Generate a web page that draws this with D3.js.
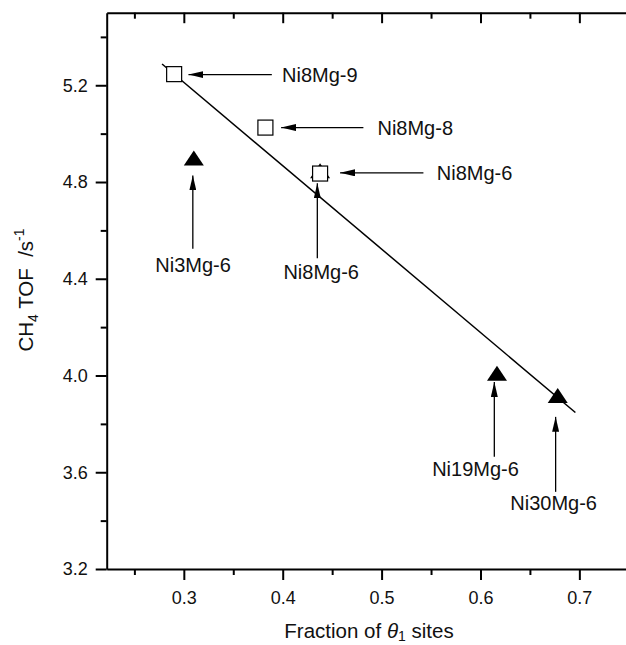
<!DOCTYPE html>
<html>
<head>
  <meta charset="utf-8">
  <title>CH4 TOF vs fraction of theta1 sites</title>
  <style type="text/css">
    body { margin: 0; background: #fff; }
    svg text { font-family: "Liberation Sans", Arial, Helvetica, sans-serif; fill: #111; }
    .axis path, .axis line { stroke: #000; stroke-width: 2px; }
    .axis text { font-size: 18px; }
    .note { font-size: 20px; }
    .title { font-size: 20.5px; white-space: pre; }
  </style>
</head>
<body>
<div id="chart"></div>
<script src="https://cdnjs.cloudflare.com/ajax/libs/d3/7.8.5/d3.min.js"></script>
<script type="text/javascript">
// open squares
var squareNames = ['Ni8Mg-9', 'Ni8Mg-8', 'Ni8Mg-6'];
var squareX = [0.2902, 0.3825, 0.4378];
var squareY = [5.246, 5.025, 4.835];

// filled triangles
var triNames = ['Ni3Mg-6', 'Ni8Mg-6', 'Ni19Mg-6', 'Ni30Mg-6'];
var triX = [0.3101, 0.4378, 0.6167, 0.6781];
var triY = [4.899, 4.847, 4.009, 3.917];

// linear fit end points
var fitX = [0.278, 0.696];
var fitY = [5.288, 3.847];

// arrows + labels (data units)
var noteText  = ['Ni8Mg-9', 'Ni8Mg-8', 'Ni8Mg-6', 'Ni8Mg-6', 'Ni3Mg-6', 'Ni19Mg-6', 'Ni30Mg-6'];
var noteTailX = [0.389, 0.4816, 0.5423, 0.435, 0.3091, 0.614, 0.676];
var noteTailY = [5.244, 5.025, 4.838, 4.485, 4.524, 3.664, 3.519];
var noteTipX  = [0.3047, 0.3984, 0.458, 0.435, 0.3091, 0.614, 0.676];
var noteTipY  = [5.244, 5.025, 4.838, 4.795, 4.827, 3.973, 3.829];
var noteLabX  = [0.3993, 0.4958, 0.5558, 0.4389, 0.3094, 0.595, 0.674];
var noteLabY  = [5.244, 5.025, 4.838, 4.397, 4.426, 3.584, 3.444];
var noteSide  = ['h', 'h', 'h', 'v', 'v', 'v', 'v'];

var xMajor = [0.3, 0.4, 0.5, 0.6, 0.7];
var xMinor = [0.25, 0.35, 0.45, 0.55, 0.65, 0.75];
var yMajor = [3.2, 3.6, 4.0, 4.4, 4.8, 5.2];
var yMinor = [3.4, 3.8, 4.2, 4.6, 5.0, 5.4];

var W = 626, H = 645;
var svg = d3.select('#chart').append('svg')
  .attr('width', W)
  .attr('height', H);

var x = d3.scaleLinear().domain([0.222, 0.75]).range([106.7, 628.8]);
var y = d3.scaleLinear().domain([3.2, 5.5]).range([569, 12.7]);

// arrow head
svg.append('defs').append('marker')
  .attr('id', 'head')
  .attr('markerUnits', 'userSpaceOnUse')
  .attr('viewBox', '0 0 15 7')
  .attr('refX', 15).attr('refY', 3.5)
  .attr('markerWidth', 15).attr('markerHeight', 7)
  .attr('orient', 'auto')
  .append('path')
  .attr('d', 'M0,0 L15,3.5 L0,7 Z')
  .attr('fill', '#000');

// axes
var fmt = d3.format('.1f');
svg.append('g').attr('class', 'axis')
  .attr('transform', 'translate(0,' + y(3.2) + ')')
  .call(d3.axisBottom(x).tickValues(xMajor).tickFormat(fmt).tickSizeInner(11).tickSizeOuter(0).tickPadding(11));
svg.append('g').attr('class', 'axis')
  .attr('transform', 'translate(0,' + y(3.2) + ')')
  .call(d3.axisBottom(x).tickValues(xMinor).tickFormat('').tickSizeInner(6).tickSizeOuter(0))
  .select('.domain').remove();
// top, inward ticks
svg.append('g').attr('class', 'axis')
  .attr('transform', 'translate(0,' + y(5.5) + ')')
  .call(d3.axisBottom(x).tickValues(xMajor).tickFormat('').tickSizeInner(10.5).tickSizeOuter(0));
svg.append('g').attr('class', 'axis')
  .attr('transform', 'translate(0,' + y(5.5) + ')')
  .call(d3.axisBottom(x).tickValues(xMinor).tickFormat('').tickSizeInner(6).tickSizeOuter(0))
  .select('.domain').remove();

svg.append('g').attr('class', 'axis')
  .attr('transform', 'translate(' + x(0.222) + ',0)')
  .call(d3.axisLeft(y).tickValues(yMajor).tickFormat(fmt).tickSizeInner(11).tickSizeOuter(0).tickPadding(8));
svg.append('g').attr('class', 'axis')
  .attr('transform', 'translate(' + x(0.222) + ',0)')
  .call(d3.axisLeft(y).tickValues(yMinor).tickFormat('').tickSizeInner(6).tickSizeOuter(0))
  .select('.domain').remove();

// fit line
svg.append('line')
  .attr('x1', x(fitX[0])).attr('y1', y(fitY[0]))
  .attr('x2', x(fitX[1])).attr('y2', y(fitY[1]))
  .attr('stroke', '#000').attr('stroke-width', 1.5);

// triangles (under squares)
svg.selectAll('path.tri')
  .data(triNames)
  .enter().append('path')
  .attr('class', 'tri')
  .attr('d', function(d, i) {
    var cx = x(triX[i]), cy = y(triY[i]);
    return 'M' + (cx - 10) + ',' + (cy + 7.5) + 'L' + (cx + 10) + ',' + (cy + 7.5) + 'L' + cx + ',' + (cy - 7.5) + 'Z';
  })
  .attr('fill', '#000');

svg.selectAll('rect.sq')
  .data(squareNames)
  .enter().append('rect')
  .attr('class', 'sq')
  .attr('x', function(d, i) { return x(squareX[i]) - 7.5 })
  .attr('y', function(d, i) { return y(squareY[i]) - 7.5 })
  .attr('width', 15).attr('height', 15)
  .attr('fill', '#fff').attr('stroke', '#000').attr('stroke-width', 1.2);

// arrows
svg.selectAll('line.arr')
  .data(noteText)
  .enter().append('line')
  .attr('class', 'arr')
  .attr('x1', function(d, i) { return x(noteTailX[i]) })
  .attr('y1', function(d, i) { return y(noteTailY[i]) })
  .attr('x2', function(d, i) { return x(noteTipX[i]) })
  .attr('y2', function(d, i) { return y(noteTipY[i]) })
  .attr('stroke', '#000').attr('stroke-width', 1.3)
  .attr('marker-end', 'url(#head)');

svg.selectAll('text.note')
  .data(noteText)
  .enter().append('text')
  .attr('class', 'note')
  .attr('x', function(d, i) { return x(noteLabX[i]) })
  .attr('y', function(d, i) { return y(noteLabY[i]) })
  .attr('dy', function(d, i) { return noteSide[i] == 'h' ? '0.36em' : null })
  .attr('text-anchor', function(d, i) { return noteSide[i] == 'h' ? 'start' : 'middle' })
  .text(function(d) { return d });

// axis titles
var xt = svg.append('text').attr('class', 'title')
  .attr('x', 369).attr('y', 638)
  .attr('text-anchor', 'middle');
xt.append('tspan').text('Fraction of ');
xt.append('tspan').style('font-style', 'italic').text('\u03b8');
xt.append('tspan').attr('dy', 3).style('font-size', '14px').text('1');
xt.append('tspan').attr('dy', -3).text(' sites');

var yt = svg.append('text').attr('class', 'title')
  .attr('transform', 'translate(33,290) rotate(-90)')
  .attr('text-anchor', 'middle');
yt.append('tspan').text('CH');
yt.append('tspan').attr('dy', 5).style('font-size', '14px').text('4');
yt.append('tspan').attr('dy', -5).text(' TOF  /s');
yt.append('tspan').attr('dy', -9).style('font-size', '14px').text('-1');
</script>
</body>
</html>
